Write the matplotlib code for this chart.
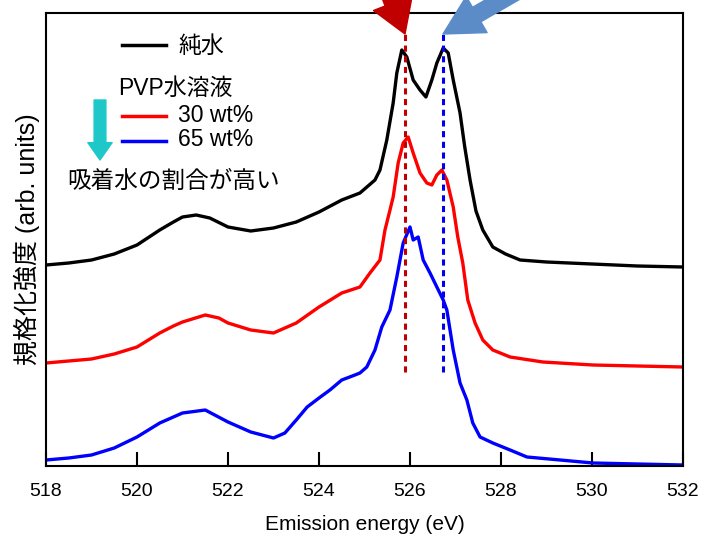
import matplotlib
matplotlib.use("Agg")
import matplotlib.pyplot as plt
from matplotlib.lines import Line2D

# spectra (energy in eV, intensity in arb. units)
e_water = [518, 518.5, 519, 519.5, 520, 520.5, 520.8, 521, 521.3, 521.6, 522, 522.5, 523, 523.5,
           524, 524.5, 524.9, 525.23, 525.34, 525.49, 525.63, 525.71, 525.82, 525.93,
           526.07, 526.22, 526.35, 526.48, 526.59, 526.73, 526.84, 526.95, 527.1, 527.2,
           527.32, 527.45, 527.6, 527.82, 528.1, 528.42, 529.0, 530.0, 531.0, 532.0]
i_water = [201, 203, 206, 212, 221, 236, 244, 249, 251, 248, 239, 235, 238, 244,
           254, 266, 273, 286, 296, 326, 363, 393, 416, 409,
           386, 376, 369, 386, 403, 418, 413, 386, 353, 320,
           286, 255, 236, 219, 212, 206, 204, 202, 200, 199]

e_30 = [518, 518.5, 519, 519.5, 520, 520.5, 520.8, 521, 521.5, 521.8, 522, 522.5, 523, 523.5,
        524, 524.5, 524.9, 525.12, 525.34, 525.45, 525.56, 525.63, 525.74, 525.85,
        525.96, 526.07, 526.22, 526.37, 526.48, 526.59, 526.7, 526.81, 526.95, 527.05,
        527.16, 527.27, 527.43, 527.6, 527.82, 528.2, 528.92, 530.02, 531.0, 532.0]
i_30 = [103, 105, 107, 112, 119, 133, 140, 144, 151, 148, 143, 136, 133, 143,
        159, 173, 179, 193, 206, 236, 256, 269, 303, 323,
        329, 313, 293, 283, 281, 291, 296, 286, 259, 229,
        203, 166, 143, 126, 116, 109, 104, 101, 100, 99]

e_65 = [518, 518.5, 519, 519.5, 520, 520.5, 521, 521.5, 522, 522.5, 523, 523.25, 523.5, 523.74, 524,
        524.24, 524.5, 524.79, 524.9, 525.05, 525.23, 525.38, 525.56, 525.71, 525.85,
        526.0, 526.07, 526.18, 526.29, 526.44, 526.59, 526.73, 526.81, 526.95, 527.1,
        527.25, 527.38, 527.54, 527.82, 528.2, 528.57, 529.3, 530.02, 531.0, 532.0]
i_65 = [6, 8, 11, 18, 29, 43, 53, 56, 44, 34, 28, 33, 46, 59, 68,
        76, 86, 91, 93, 99, 116, 139, 156, 189, 223,
        239, 226, 229, 206, 193, 179, 166, 156, 116, 83,
        66, 43, 29, 23, 16, 9, 6, 3, 2, 1]

peak_low = 525.89
peak_high = 526.73
xticks = [518, 520, 522, 524, 526, 528, 530, 532]

W, H = 701, 536
fig = plt.figure(figsize=(W / 100, H / 100), dpi=100)
ax = fig.add_axes([46 / W, 1 - 466 / H, 637 / W, 453 / H])

ax.plot(e_water, i_water, color='black', lw=2.4)
ax.plot(e_30, i_30, color='#ff0000', lw=2.4)
ax.plot(e_65, i_65, color='#0000ff', lw=2.4)

ax.plot([peak_low, peak_low], [94, 433], color='#c00000', lw=2.2, ls=(0, (2, 1.5)))
ax.plot([peak_high, peak_high], [94, 433], color='#0000ee', lw=2.2, ls=(0, (2, 1.5)))

ax.set_xlim(518, 532)
ax.set_ylim(0, 453)
ax.set_xticks(xticks)
ax.set_yticks([])
ax.tick_params(axis='x', direction='in', length=10, width=1.5, pad=12)
for s in ax.spines.values():
    s.set_linewidth(1.5)

jp = ['Liberation Sans', 'Noto Sans CJK JP']
for lab in ax.get_xticklabels():
    lab.set_family(jp)
    lab.set_fontsize(14)
ax.set_xlabel('Emission energy (eV)', family=jp, fontsize=15, labelpad=11)
ax.set_ylabel('規格化強度 (arb. units)', family=jp, fontsize=18, labelpad=4)


def fx(x):
    return x / W


def fy(y):
    return 1 - y / H


# legend drawn by hand
fig.add_artist(Line2D([fx(122), fx(166)], [fy(45), fy(45)], color='black', lw=2.5))
fig.add_artist(Line2D([fx(122), fx(166)], [fy(116), fy(116)], color='#ff0000', lw=2.5))
fig.add_artist(Line2D([fx(122), fx(166)], [fy(141), fy(141)], color='#0000ff', lw=2.5))
fig.text(fx(178), fy(46), '純水', family=jp, fontsize=16.5, va='center')
fig.text(fx(118), fy(88), 'PVP水溶液', family=jp, fontsize=16.5, va='center')
fig.text(fx(178), fy(115), '30 wt%', family=jp, fontsize=16.5, va='center')
fig.text(fx(178), fy(140), '65 wt%', family=jp, fontsize=16.5, va='center')
fig.text(fx(67), fy(182), '吸着水の割合が高い', family=jp, fontsize=17, va='center')

# arrows
fig.add_artist(plt.Annotation('', xy=(100, H - 160), xytext=(100, H - 100),
                              xycoords='figure pixels', textcoords='figure pixels',
                              arrowprops=dict(arrowstyle='simple,head_length=1.25,head_width=1.75,tail_width=0.85',
                                              mutation_scale=10, color='#1ec8c8', shrinkA=0, shrinkB=0)))
fig.add_artist(plt.Annotation('', xy=(405, H - 34), xytext=(380, H + 30),
                              xycoords='figure pixels', textcoords='figure pixels',
                              arrowprops=dict(arrowstyle='simple,head_length=2.4,head_width=3.0,tail_width=1.2',
                                              mutation_scale=10, color='#c00000', shrinkA=0, shrinkB=0)))
fig.add_artist(plt.Annotation('', xy=(443, H - 34), xytext=(540, H + 22),
                              xycoords='figure pixels', textcoords='figure pixels',
                              arrowprops=dict(arrowstyle='simple,head_length=2.8,head_width=3.0,tail_width=1.2',
                                              mutation_scale=10, color='#5b8cc8', shrinkA=0, shrinkB=0)))

fig.savefig('out.png', dpi=100)
